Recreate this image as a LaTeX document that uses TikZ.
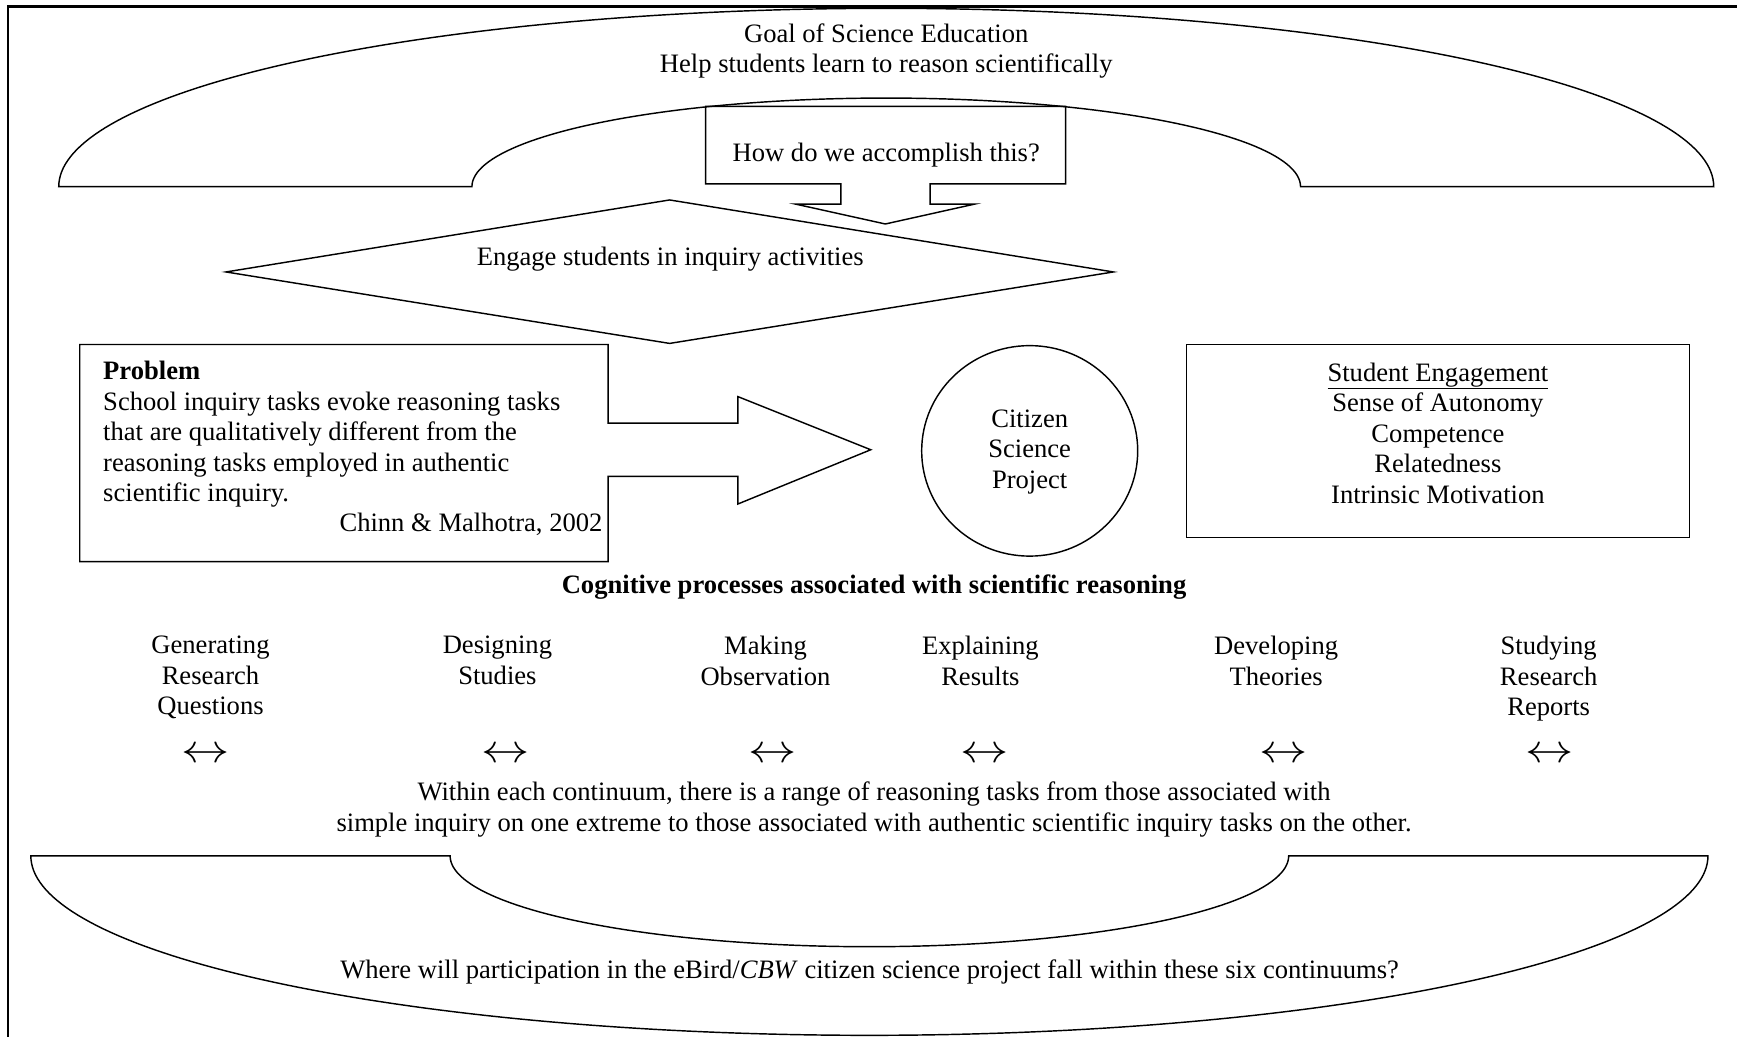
\documentclass[tikz,border=0pt]{standalone}
\usepackage{fontspec}
\setmainfont{Liberation Serif}
\begin{document}
\begin{tikzpicture}[x=1pt,y=-1pt,line join=miter]
\tikzset{
  ln/.style={draw=black,line width=1.3pt},
  frameline/.style={draw=black,line width=2.2pt},
  txt/.style={font=\fontsize{24}{27.6}\selectfont,inner sep=0pt,align=center},
  txtl/.style={font=\fontsize{24}{27.6}\selectfont,inner sep=0pt,align=left},
  arr/.style={font=\fontsize{24}{27.6}\selectfont,inner sep=0pt}
}
\newcommand{\dblarrow}{\scalebox{1.75}[1.45]{$\leftrightarrow$}}
\useasboundingbox (0,0) rectangle (1568,936);
% frame
\draw[frameline] (7,940) -- (7,6) -- (1570,6);
% top block arc
\draw[ln] (53,168.5) -- plot[domain=180:0,samples=150] ({800+747*cos(\x)},{168.5-161*sin(\x)})
  -- (1174,168.5) -- plot[domain=0:180,samples=100] ({800+374*cos(\x)},{168.5-80*sin(\x)}) -- cycle;
% bottom block arc
\draw[ln] (27.8,772.6) -- plot[domain=180:360,samples=150] ({784.8+757*cos(\x)},{772.6-162*sin(\x)})
  -- (1163.3,772.6) -- plot[domain=360:180,samples=100] ({784.8+378.5*cos(\x)},{772.6-82*sin(\x)}) -- cycle;
% down arrow callout
\draw[ln] (637,96) -- (962,96) -- (962,166) -- (839.6,166) -- (839.6,184.2) -- (880,184.2)
  -- (799.2,202.2) -- (718,184.2) -- (759,184.2) -- (759,166) -- (637,166) -- cycle;
% diamond
\draw[ln] (204,245.5) -- (604.5,180.5) -- (1005,245.5) -- (604.5,310) -- cycle;
% right arrow callout (Problem)
\draw[ln] (72,311) -- (549,311) -- (549,382) -- (666,382) -- (666,358) -- (786,406)
  -- (666,455) -- (666,430) -- (549,430) -- (549,507) -- (72,507) -- cycle;
% ellipse
\draw[ln] (929.5,407) ellipse [x radius=97.5, y radius=95];
% student engagement box
\draw[ln] (1071,311) rectangle (1525,485);

% texts
\node[txt] (goal) at (800,46) {Goal of Science Education\\Help students learn to reason scientifically};
\node[txt] (how) at (800,140) {How do we accomplish this?};
\node[txt] (engage) at (605,234) {Engage students in inquiry activities};
\node[txtl,anchor=west] (problem) at (93,392) {\textbf{Problem}\\School inquiry tasks evoke reasoning tasks\\that are qualitatively different from the\\reasoning tasks employed in authentic\\scientific inquiry.};
\node[txt,anchor=east] (cite) at (544,473) {Chinn \& Malhotra, 2002};
\node[txt] (csp) at (929.5,408) {Citizen\\Science\\Project};
\node[txt] (engagement) at (1298,391) {\underline{Student Engagement}\\Sense of Autonomy\\Competence\\Relatedness\\Intrinsic Motivation};
\node[txt] (cog) at (789,530) {\textbf{Cognitive processes associated with scientific reasoning}};
\node[txt,anchor=north] (gen) at (190,574) {Generating\\Research\\Questions};
\node[txt,anchor=north] (des) at (449,574) {Designing\\Studies};
\node[txt,anchor=north] (mak) at (691,574) {Making\\Observation};
\node[txt,anchor=north] (exp) at (885,574) {Explaining\\Results};
\node[txt,anchor=north] (dev) at (1152,574) {Developing\\Theories};
\node[txt,anchor=north] (stu) at (1398,574) {Studying\\Research\\Reports};
\node[arr] (a1) at (186,682) {\dblarrow};
\node[arr] (a2) at (456,682) {\dblarrow};
\node[arr] (a3) at (697,682) {\dblarrow};
\node[arr] (a4) at (889,682) {\dblarrow};
\node[arr] (a5) at (1159,682) {\dblarrow};
\node[arr] (a6) at (1399,682) {\dblarrow};
\node[txt] (within) at (789,731) {Within each continuum, there is a range of reasoning tasks from those associated with\\simple inquiry on one extreme to those associated with authentic scientific inquiry tasks on the other.};
\node[txt] (where) at (785,877) {Where will participation in the eBird/\textit{CBW} citizen science project fall within these six continuums?};
\end{tikzpicture}
\end{document}
